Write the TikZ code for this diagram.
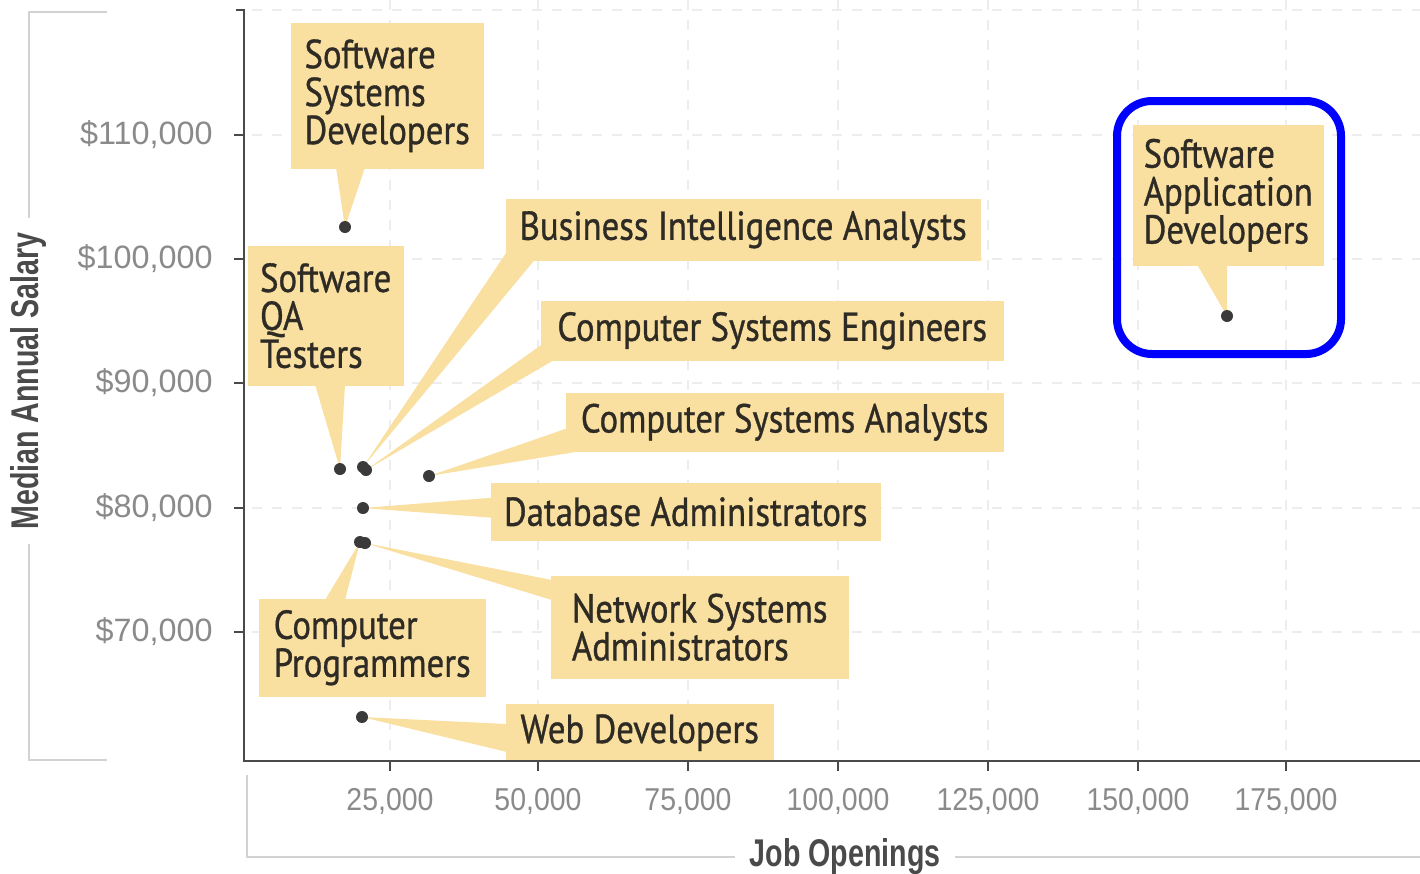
\documentclass[tikz,border=0pt]{standalone}
\usepackage{fontspec}
\setmainfont{Liberation Sans}
\newfontfamily\tagfont[FakeStretch=0.86,FakeBold=0.8]{PT Sans}
\newfontfamily\condfont[FakeStretch=0.9]{Liberation Sans}
\newfontfamily\titlefont[FakeStretch=0.74]{Liberation Sans}
\usetikzlibrary{calc,backgrounds}
\definecolor{tagfill}{HTML}{F9DFA0}
\definecolor{ink}{HTML}{2E2B25}
\definecolor{dotc}{HTML}{3A3A3A}
\definecolor{tickc}{HTML}{8A8A8A}
\definecolor{axisc}{HTML}{4A4A4A}
\definecolor{gridc}{HTML}{EDEDED}
\definecolor{brk}{HTML}{D2D2D2}

\begin{document}
\begin{tikzpicture}[x=0.1mm,y=-0.1mm,
		tag/.style={fill=tagfill,anchor=north west,align=left,inner sep=0pt,text=ink,
			font=\tagfont\fontsize{11.5}{10.8}\selectfont},
		dot/.style={circle,fill=dotc,minimum size=1.2mm,inner sep=0pt},
		wedge/.style={fill=tagfill},
		grid line/.style={gridc,dash pattern=on 1mm off 1mm,line width=0.12mm},
		axis/.style={axisc,line width=0.22mm},
		bracket/.style={brk,line width=0.25mm},
		ylab/.style={anchor=east,text=tickc,font=\fontsize{9.2}{10}\selectfont},
		xlab/.style={text=tickc,font=\condfont\fontsize{9}{10}\selectfont},
		axtitle/.style={text=axisc,inner sep=1.4mm,font=\titlefont\bfseries\fontsize{11}{12}\selectfont},
		hl/.style={draw=blue,line width=0.8mm,rounded corners=3.5mm}]

	\useasboundingbox (0,0) rectangle (1420,873);

	\begin{scope}[on background layer]
		\foreach \y in {10,135,259,383,508,632}
			\draw [grid line] (252,\y) -- (1420,\y);
		\foreach \x in {390,538,688,838,988,1138,1286}
			\draw [grid line] (\x,0) -- (\x,760);
	\end{scope}

	\node [dot] (dot-ssd) at (345,227) {};
	\node [dot] (dot-qa)  at (340,469) {};
	\node [dot] (dot-bia) at (363,467) {};
	\node [dot] (dot-cse) at (366,470) {};
	\node [dot] (dot-csa) at (429,476) {};
	\node [dot] (dot-dba) at (363,508) {};
	\node [dot] (dot-cp)  at (360,542) {};
	\node [dot] (dot-nsa) at (365,543) {};
	\node [dot] (dot-web) at (362,717) {};
	\node [dot] (dot-sad) at (1227,316) {};

	\node [tag,minimum width=19.3mm,minimum height=14.6mm] (lbl-ssd) at (290,22) {Software\\Systems\\Developers};
	\node [tag,minimum width=15.6mm,minimum height=14.0mm] (lbl-qa) at (247,245) {Software\\QA\\Testers};
	\node [tag,minimum width=47.5mm,minimum height=6.2mm] (lbl-bia) at (505,198) {Business Intelligence Analysts};
	\node [tag,minimum width=46.3mm,minimum height=6.0mm] (lbl-cse) at (540,300) {Computer Systems Engineers};
	\node [tag,minimum width=43.8mm,minimum height=5.9mm] (lbl-csa) at (565,392) {Computer Systems Analysts};
	\node [tag,minimum width=39.0mm,minimum height=5.8mm] (lbl-dba) at (490,482) {Database Administrators};
	\node [tag,minimum width=29.8mm,minimum height=10.3mm] (lbl-nsa) at (550,575) {Network Systems\\Administrators};
	\node [tag,minimum width=22.7mm,minimum height=9.8mm] (lbl-cp) at (258,598) {Computer\\Programmers};
	\node [tag,minimum width=26.8mm,minimum height=5.8mm] (lbl-web) at (505,703) {Web Developers};
	\node [tag,minimum width=19.1mm,minimum height=14.1mm] (lbl-sad) at (1132,124) {Software\\Application\\Developers};

	\begin{scope}[on background layer]
		\fill [wedge] ($(lbl-ssd.south west)+(46,-2)$) -- (dot-ssd.center) -- ($(lbl-ssd.south west)+(75,-2)$) -- cycle;
		\fill [wedge] ($(lbl-qa.south west)+(68,-2)$) -- (dot-qa.center) -- ($(lbl-qa.south west)+(98,-2)$) -- cycle;
		\fill [wedge] ($(lbl-bia.south west)+(2,-10)$) -- (dot-bia.center) -- ($(lbl-bia.south west)+(30,-2)$) -- cycle;
		\fill [wedge] ($(lbl-cse.south west)+(2,-17)$) -- (dot-cse.center) -- ($(lbl-cse.south west)+(15,-2)$) -- cycle;
		\fill [wedge] ($(lbl-csa.south west)+(2,-24)$) -- (dot-csa.center) -- ($(lbl-csa.south west)+(20,-2)$) -- cycle;
		\fill [wedge] ($(lbl-dba.west)+(2,-14)$) -- (dot-dba.center) -- ($(lbl-dba.west)+(2,6)$) -- cycle;
		\fill [wedge] ($(lbl-nsa.north west)+(2,5)$) -- (dot-nsa.center) -- ($(lbl-nsa.north west)+(2,25)$) -- cycle;
		\fill [wedge] ($(lbl-cp.north west)+(67,2)$) -- (dot-cp.center) -- ($(lbl-cp.north west)+(87,2)$) -- cycle;
		\fill [wedge] ($(lbl-web.north west)+(2,21)$) -- (dot-web.center) -- ($(lbl-web.north west)+(2,49)$) -- cycle;
		\fill [wedge] ($(lbl-sad.south west)+(65,-2)$) -- (dot-sad.center) -- ($(lbl-sad.south west)+(95,-2)$) -- cycle;
	\end{scope}

	\draw [axis] (236,10) -- (244,10) -- (244,761) -- (1420,761);
	\foreach \y/\v in {135/110,259/100,383/90,508/80,632/70} {
		\draw [axis] (234,\y) -- (244,\y);
		\node [ylab] (ylab-\v) at (225,\y) {\$\v,000};
	}
	\foreach \x/\v in {390/25,538/50,688/75,838/100,988/125,1138/150,1286/175} {
		\draw [axis] (\x,761) -- (\x,771);
		\node [xlab] (xlab-\v) at (\x,801) {\v,000};
	}

	\node [axtitle,rotate=90] (ytitle) at (29,381) {Median Annual Salary};
	\node [axtitle] (xtitle) at (845,857) {Job Openings};
	\draw [bracket] (107,12) -| (ytitle.east);
	\draw [bracket] (ytitle.west) |- (107,760);
	\draw [bracket] (247,775) |- (xtitle.west);
	\draw [bracket] (xtitle.east) -- (1420,857);

	\draw [hl] (1117,101) rectangle (1341,354);
\end{tikzpicture}
\end{document}
